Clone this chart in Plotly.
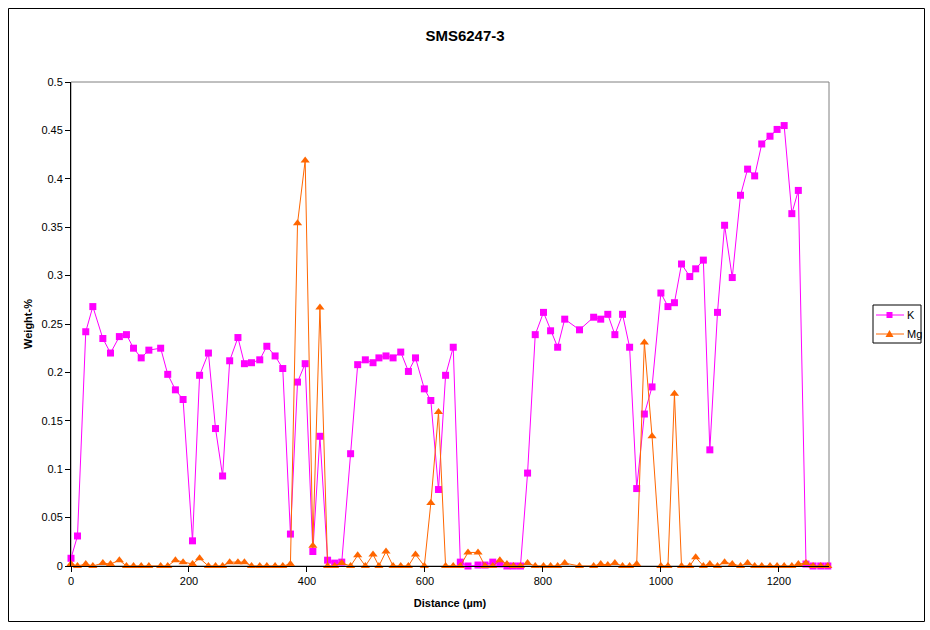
import plotly.graph_objects as go

# Distance along the line scan (µm)
distance = [0, 11, 25, 37, 54, 67, 82, 94, 106, 119, 132, 152, 164, 177, 190,
            206, 218, 233, 245, 257, 269, 283, 294, 306, 320, 332, 346, 359, 372,
            384, 397, 410, 422, 435, 447, 459, 474, 486, 499, 512, 522, 534, 546,
            559, 572, 584, 599, 610, 623, 635, 648, 660, 673, 690, 702, 715, 727,
            739, 750, 762, 774, 787, 801, 813, 825, 837, 862, 886, 898, 910, 922,
            935, 947, 959, 972, 985, 1000, 1012, 1023, 1035, 1049, 1059, 1072,
            1083, 1096, 1108, 1121, 1135, 1147, 1159, 1171, 1185, 1197, 1209, 1222,
            1233, 1246, 1258, 1271, 1283]

k_wt = [0.008, 0.031, 0.242, 0.268, 0.235, 0.220, 0.237, 0.239, 0.225, 0.215,
        0.223, 0.225, 0.198, 0.182, 0.172, 0.026, 0.197, 0.220, 0.142, 0.093,
        0.212, 0.236, 0.209, 0.210, 0.213, 0.227, 0.217, 0.204, 0.033, 0.190,
        0.209, 0.015, 0.134, 0.006, 0.003, 0.004, 0.116, 0.208, 0.213, 0.210,
        0.215, 0.217, 0.215, 0.221, 0.201, 0.215, 0.183, 0.171, 0.079, 0.197,
        0.226, 0.004, 0.000, 0.001, 0.001, 0.004, 0.002, 0.000, 0.000, 0.000,
        0.096, 0.239, 0.262, 0.243, 0.226, 0.255, 0.244, 0.257, 0.255, 0.260,
        0.239, 0.260, 0.226, 0.080, 0.157, 0.185, 0.282, 0.268, 0.272, 0.312,
        0.299, 0.307, 0.316, 0.120, 0.262, 0.352, 0.298, 0.383, 0.410, 0.403,
        0.436, 0.444, 0.451, 0.455, 0.364, 0.388, 0.002, 0.000, 0.000, 0.000]

mg_wt = [0.002, 0.000, 0.002, 0.000, 0.003, 0.002, 0.006, 0.000, 0.000, 0.000,
         0.000, 0.000, 0.000, 0.006, 0.004, 0.002, 0.008, 0.000, 0.000, 0.000,
         0.004, 0.004, 0.004, 0.000, 0.000, 0.000, 0.000, 0.000, 0.002, 0.354,
         0.419, 0.021, 0.267, 0.000, 0.000, 0.003, 0.000, 0.011, 0.000, 0.012,
         0.000, 0.015, 0.000, 0.000, 0.000, 0.012, 0.000, 0.065, 0.159, 0.000,
         0.000, 0.000, 0.014, 0.014, 0.000, 0.000, 0.006, 0.002, 0.000, 0.000,
         0.003, 0.000, 0.000, 0.000, 0.000, 0.003, 0.000, 0.000, 0.002, 0.001,
         0.003, 0.000, 0.000, 0.002, 0.231, 0.134, 0.000, 0.000, 0.178, 0.000,
         0.000, 0.009, 0.000, 0.002, 0.000, 0.004, 0.002, 0.000, 0.003, 0.000,
         0.000, 0.000, 0.000, 0.000, 0.000, 0.002, 0.003, 0.000, 0.000, 0.000]

K_COL = "#FF00FF"
MG_COL = "#FF6600"
FONT = "Arial, Liberation Sans, sans-serif"

fig = go.Figure()
fig.add_trace(go.Scatter(
    x=distance, y=k_wt, name="K", mode="lines+markers",
    line=dict(color=K_COL, width=1),
    marker=dict(symbol="square", size=7, color=K_COL),
    cliponaxis=False))
fig.add_trace(go.Scatter(
    x=distance, y=mg_wt, name="Mg", mode="lines+markers",
    line=dict(color=MG_COL, width=1),
    marker=dict(symbol="triangle-up", size=8, color=MG_COL),
    cliponaxis=False))

# page pixels (body margin removed below)
W, H = 930, 630
L, R, T, B = 71, 829, 82, 566
px = lambda x: (x - L) / (R - L)
py = lambda y: (B - y) / (B - T)

# hand-drawn legend box (plotly's own legend is too wide for the space)
LX0, LY0, LX1, LY1 = 873, 305, 921, 343
rows = [("K", K_COL, 315), ("Mg", MG_COL, 334)]
shapes = [
    dict(type="rect", xref="paper", yref="paper", x0=0, y0=0, x1=1, y1=1,
         line=dict(color="#808080", width=1), layer="below"),
    dict(type="rect", xref="paper", yref="paper",
         x0=px(8.5), y0=py(621.5), x1=px(924.5), y1=py(8.5),
         line=dict(color="black", width=1)),
    dict(type="rect", xref="paper", yref="paper",
         x0=px(LX0), y0=py(LY1), x1=px(LX1), y1=py(LY0),
         line=dict(color="black", width=1), fillcolor="white"),
]
annotations = []
for name, col, yy in rows:
    shapes.append(dict(type="line", xref="paper", yref="paper",
                       x0=px(876), x1=px(904), y0=py(yy), y1=py(yy),
                       line=dict(color=col, width=1)))
    if name == "K":
        shapes.append(dict(type="rect", xref="paper", yref="paper",
                           x0=px(886.5), x1=px(892.5), y0=py(yy + 3), y1=py(yy - 3),
                           line=dict(width=0), fillcolor=col))
    else:
        path = "M {} {} L {} {} L {} {} Z".format(
            px(885.5), py(yy + 3), px(893.5), py(yy + 3), px(889.5), py(yy - 4))
        shapes.append(dict(type="path", xref="paper", yref="paper", path=path,
                           line=dict(width=0), fillcolor=col))
    annotations.append(dict(text=name, xref="paper", yref="paper",
                            x=px(905), y=py(yy), xanchor="left", yanchor="middle",
                            showarrow=False, font=dict(size=11, family=FONT)))

fig.update_layout(
    width=W, height=H,
    margin=dict(l=L, r=W - R, t=T, b=H - B),
    paper_bgcolor="white", plot_bgcolor="white",
    font=dict(family=FONT, size=11, color="black"),
    title=dict(text="<b>SMS6247-3</b>", x=px(465), xanchor="center",
               xref="paper", y=(H - 36) / H, yanchor="middle",
               font=dict(size=15, family=FONT, color="black")),
    showlegend=False,
    xaxis=dict(range=[0, 1285], dtick=200, tick0=0, showgrid=False,
               zeroline=False, showline=True, linecolor="black", linewidth=1,
               ticks="outside", ticklen=5, tickcolor="black",
               tickfont=dict(size=11),
               title=dict(text="<b>Distance (µm)</b>", standoff=13,
                          font=dict(size=11))),
    yaxis=dict(range=[0, 0.5], dtick=0.05, tick0=0, showgrid=False,
               zeroline=False, showline=True, linecolor="black", linewidth=1,
               ticks="outside", ticklen=5, tickcolor="black",
               tickfont=dict(size=11),
               title=dict(text="<b>Weight-%</b>", standoff=6,
                          font=dict(size=11))),
    shapes=shapes,
    annotations=annotations,
)

fig.write_html("out.html", config={"displayModeBar": False},
               post_script="document.body.style.margin='0';document.body.style.overflow='hidden';")
